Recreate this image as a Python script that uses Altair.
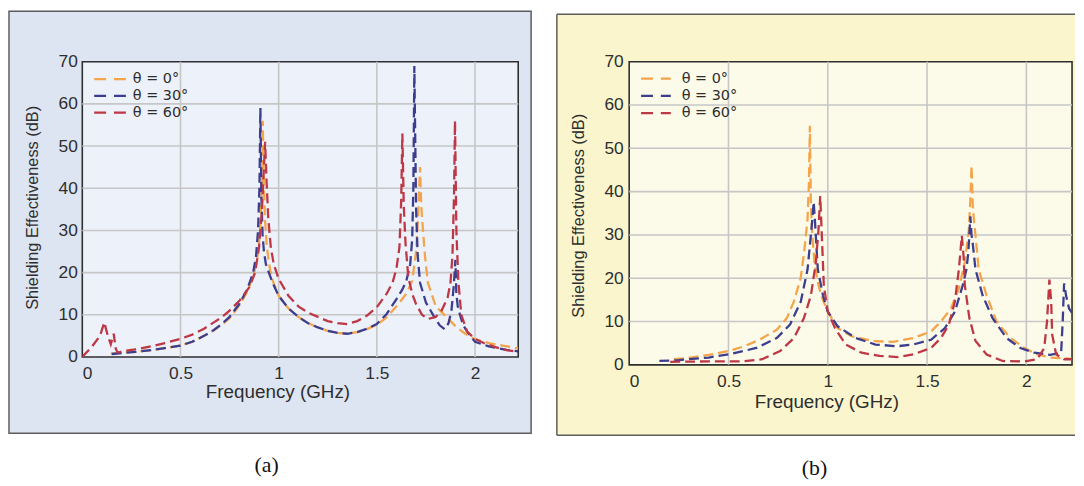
import altair as alt
import pandas as pd

# ---------------- data ----------------
series = ["θ = 0°", "θ = 30°", "θ = 60°"]
colors = ["#F4A44A", "#3B3D8F", "#BD3745"]
x_ticks = [0, 0.5, 1, 1.5, 2]
y_ticks = [0, 10, 20, 30, 40, 50, 60, 70]
x_grid = [0.5, 1, 1.5, 2]
y_grid = [10, 20, 30, 40, 50, 60]
panel_labels = ["(a)", "(b)"]
x_title = "Frequency (GHz)"
y_title = "Shielding Effectiveness (dB)"

# panel (a)
a_x0 = [0.145, 0.2, 0.27, 0.35, 0.42, 0.5, 0.56, 0.62, 0.67, 0.71, 0.75, 0.8, 0.84, 0.87, 0.89,
        0.9, 0.908, 0.914, 0.919, 0.924, 0.93, 0.94, 0.955, 0.97, 1.0, 1.05, 1.1, 1.15, 1.2, 1.25,
        1.3, 1.35, 1.4, 1.45, 1.5, 1.55, 1.6, 1.65, 1.68, 1.7, 1.71, 1.716, 1.72, 1.726, 1.735,
        1.745, 1.76, 1.8, 1.85, 1.9, 1.95, 2.0, 2.07, 2.14, 2.22]
a_y0 = [0.8, 1.0, 1.2, 1.6, 2.1, 2.7, 3.6, 5.0, 6.3, 7.6, 9.2, 12.2, 15.5, 19.0, 23.0,
        27.0, 32.0, 40.0, 56.0, 42.0, 33.0, 26.0, 21.0, 18.0, 14.5, 11.5, 9.5, 8.0, 7.0, 6.2,
        5.7, 5.5, 5.9, 6.6, 7.6, 9.4, 12.0, 15.0, 18.0, 25.0, 33.0, 40.0, 45.0, 36.0, 30.0,
        24.0, 17.6, 12.0, 9.7, 7.3, 5.5, 4.2, 3.3, 2.7, 2.0]
a_x30 = [0.15, 0.2, 0.27, 0.35, 0.42, 0.5, 0.56, 0.62, 0.67, 0.71, 0.75, 0.8, 0.84, 0.87, 0.885,
         0.895, 0.902, 0.907, 0.912, 0.918, 0.925, 0.935, 0.95, 0.97, 1.0, 1.05, 1.1, 1.15, 1.2, 1.25,
         1.3, 1.35, 1.4, 1.45, 1.5, 1.55, 1.6, 1.63, 1.65, 1.67, 1.68, 1.686, 1.691, 1.696, 1.70,
         1.708, 1.72, 1.75, 1.79, 1.82, 1.845, 1.865, 1.88, 1.892, 1.9, 1.905, 1.912, 1.925, 1.94, 1.96,
         2.0, 2.07, 2.16, 2.22]
a_y30 = [0.7, 0.9, 1.2, 1.6, 2.1, 2.7, 3.6, 5.0, 6.4, 7.8, 9.5, 12.6, 16.0, 20.0, 24.0,
         30.0, 40.0, 59.0, 38.0, 29.0, 25.0, 22.0, 20.0, 17.5, 14.5, 11.5, 9.5, 8.0, 7.0, 6.2,
         5.7, 5.5, 5.9, 6.7, 7.8, 10.2, 13.7, 16.0, 18.0, 22.0, 28.0, 40.0, 69.0, 50.0, 35.0,
         24.0, 17.6, 12.9, 9.7, 7.5, 6.6, 8.0, 11.0, 17.0, 23.0, 15.0, 12.0, 9.7, 7.5, 6.0,
         3.6, 2.5, 1.7, 1.3]
a_x60 = [0.0, 0.05, 0.09, 0.112, 0.13, 0.145, 0.16, 0.17, 0.18, 0.2, 0.27, 0.35, 0.42, 0.5, 0.56,
         0.62, 0.67, 0.71, 0.75, 0.8, 0.85, 0.88, 0.9, 0.915, 0.925, 0.931, 0.938, 0.947, 0.96, 0.975,
         1.0, 1.05, 1.1, 1.15, 1.2, 1.25, 1.3, 1.35, 1.4, 1.45, 1.5, 1.55, 1.58, 1.6, 1.615,
         1.624, 1.63, 1.637, 1.646, 1.66, 1.68, 1.7, 1.73, 1.76, 1.8, 1.83, 1.86, 1.875, 1.885, 1.893,
         1.898, 1.905, 1.915, 1.93, 1.96, 2.0, 2.05, 2.1, 2.16, 2.22]
a_y60 = [0.0, 2.5, 5.0, 8.2, 5.0, 3.0, 5.5, 2.0, 1.0, 1.3, 1.8, 2.5, 3.3, 4.3, 5.3,
         6.7, 8.2, 9.4, 11.0, 13.3, 16.5, 20.0, 26.0, 35.0, 45.0, 51.0, 42.0, 33.0, 26.0, 22.0,
         18.5, 14.5, 12.0, 10.5, 9.5, 8.5, 8.0, 7.8, 8.5, 9.8, 11.8, 15.0, 17.6, 21.0, 26.0,
         37.0, 53.0, 36.0, 27.0, 19.0, 15.0, 12.5, 10.0, 9.0, 9.5, 11.0, 14.0, 17.6, 24.0, 38.0,
         56.0, 30.0, 18.0, 10.0, 6.0, 4.3, 3.2, 2.4, 1.6, 1.2]

# panel (b)
b_x0 = [0.225, 0.3, 0.4, 0.5, 0.58, 0.656, 0.743, 0.794, 0.829, 0.863, 0.881, 0.898, 0.905, 0.91, 0.915,
        0.922, 0.933, 0.95, 0.967, 1.0, 1.05, 1.12, 1.23, 1.33, 1.43, 1.52, 1.57, 1.62, 1.66, 1.69,
        1.71, 1.718, 1.724, 1.73, 1.737, 1.744, 1.76, 1.8, 1.85, 1.92, 1.99, 2.055, 2.12, 2.23]
b_y0 = [1.3, 1.6, 2.3, 3.2, 4.3, 5.8, 8.1, 10.8, 14.6, 19.9, 26.0, 33.6, 42.0, 55.2, 37.0,
        30.0, 23.7, 19.0, 16.0, 12.3, 8.5, 6.6, 5.5, 5.3, 6.2, 7.7, 10.0, 13.0, 17.6, 23.7,
        31.0, 38.0, 46.0, 37.0, 33.0, 29.8, 22.0, 16.0, 10.0, 6.2, 3.9, 2.4, 1.7, 1.4]
b_x30 = [0.152, 0.25, 0.4, 0.5, 0.64, 0.743, 0.81, 0.864, 0.898, 0.915, 0.923, 0.929, 0.935, 0.942, 0.95,
         0.976, 1.0, 1.05, 1.14, 1.24, 1.35, 1.43, 1.52, 1.59, 1.64, 1.68, 1.698, 1.708, 1.718, 1.724,
         1.73, 1.744, 1.78, 1.83, 1.9, 1.97, 2.04, 2.12, 2.175, 2.183, 2.19, 2.2, 2.215, 2.23]
b_y30 = [0.9, 1.1, 1.7, 2.4, 3.9, 6.2, 9.3, 14.6, 22.0, 30.0, 34.0, 37.6, 33.6, 28.0, 22.0,
         16.0, 12.3, 8.9, 6.2, 4.7, 4.3, 4.7, 5.8, 8.5, 12.3, 18.4, 22.0, 26.0, 34.3, 30.0,
         28.0, 22.0, 16.0, 10.8, 6.2, 3.9, 2.8, 2.3, 2.8, 10.0, 18.8, 16.0, 13.0, 12.0]
b_x60 = [0.207, 0.4, 0.57, 0.67, 0.76, 0.83, 0.88, 0.915, 0.94, 0.953, 0.962, 0.97, 0.98, 1.0, 1.036,
         1.09, 1.17, 1.26, 1.35, 1.43, 1.52, 1.57, 1.61, 1.64, 1.66, 1.675, 1.684, 1.69, 1.713, 1.744,
         1.8, 1.88, 1.99, 2.055, 2.09, 2.104, 2.116, 2.125, 2.13, 2.15, 2.19, 2.23]
b_y60 = [0.7, 0.8, 0.8, 1.3, 3.2, 6.2, 10.8, 16.0, 23.7, 31.0, 39.0, 30.0, 18.4, 12.3, 8.5,
         4.7, 2.8, 2.1, 1.8, 2.4, 3.9, 6.2, 9.3, 14.6, 22.0, 29.8, 25.0, 18.4, 10.8, 5.5,
         2.4, 0.9, 0.8, 1.3, 3.9, 10.0, 19.7, 14.6, 7.0, 2.4, 1.3, 1.3]


def to_long(xs, ys):
    frames = [pd.DataFrame({"freq": x, "se": y, "theta": name})
              for name, x, y in zip(series, xs, ys)]
    return pd.concat(frames, ignore_index=True)


df_a = to_long([a_x0, a_x30, a_x60], [a_y0, a_y30, a_y60])
df_b = to_long([b_x0, b_x30, b_x60], [b_y0, b_y30, b_y60])

FONT = "Liberation Sans"
LEGFONT = "DejaVu Sans"
TXT = "#2e2e2e"
EDGE = "#5c5c5c"


def panel(df, label, W, H, xmax, box_fill, plot_fill, box, full_border, lab_xy,
          leg, ytitle_xy, xtitle_xy, xlab_pad, ylab_pad):
    one = pd.DataFrame({"k": [0]})
    xs = alt.Scale(domain=[0, xmax], nice=False, zero=False)
    ys = alt.Scale(domain=[0, 70], nice=False, zero=False)
    x_axis = alt.Axis(
        values=x_ticks, format="~g", title=x_title, grid=False, domain=False, ticks=False,
        tickSize=0, labelPadding=xlab_pad, labelFont=FONT, labelFontSize=17.5, labelColor=TXT,
        titleFont=FONT, titleFontSize=19, titleFontWeight="normal", titleColor=TXT,
        titleX=xtitle_xy[0], titleY=xtitle_xy[1], titleAlign="center", titleBaseline="middle",
        zindex=2)
    y_axis = alt.Axis(
        values=y_ticks, title=y_title, grid=False, domain=False, ticks=False, tickSize=0,
        labelPadding=ylab_pad, labelFont=FONT, labelFontSize=17.5, labelColor=TXT,
        titleFont=FONT, titleFontSize=16.5, titleFontWeight="normal", titleColor=TXT,
        titleX=ytitle_xy[0], titleY=ytitle_xy[1], titleAngle=270, titleAlign="center",
        titleBaseline="middle", zindex=2)
    bl, bt, br, bb = box
    layers = []
    if full_border:
        layers.append(alt.Chart(one).mark_rect(fill=box_fill, stroke=EDGE, strokeWidth=1.5).encode(
            x=alt.value(bl), x2=alt.value(br), y=alt.value(bt), y2=alt.value(bb)))
    else:
        layers.append(alt.Chart(one).mark_rect(fill=box_fill, strokeWidth=0).encode(
            x=alt.value(bl), x2=alt.value(br), y=alt.value(bt), y2=alt.value(bb)))
        layers.append(alt.Chart(one).mark_rule(color=EDGE, strokeWidth=1.5).encode(
            x=alt.value(bl), x2=alt.value(br), y=alt.value(bt)))
        layers.append(alt.Chart(one).mark_rule(color=EDGE, strokeWidth=1.5).encode(
            x=alt.value(bl), y=alt.value(bt), y2=alt.value(bb)))
        layers.append(alt.Chart(one).mark_rule(color=EDGE, strokeWidth=1.5).encode(
            x=alt.value(bl), x2=alt.value(br), y=alt.value(bb)))
    # plot area
    layers.append(alt.Chart(one).mark_rect(fill=plot_fill, stroke="#2f2f2f", strokeWidth=1.6).encode(
        x=alt.value(0), x2=alt.value(W), y=alt.value(0), y2=alt.value(H)))
    # grid
    layers.append(alt.Chart(pd.DataFrame({"freq": x_grid})).mark_rule(color="#c6c6c6", strokeWidth=1.6).encode(
        x=alt.X("freq:Q", scale=xs, axis=x_axis)))
    layers.append(alt.Chart(pd.DataFrame({"se": y_grid})).mark_rule(color="#c6c6c6", strokeWidth=1.6).encode(
        y=alt.Y("se:Q", scale=ys, axis=y_axis)))
    # curves
    lines = alt.Chart(df).mark_line(strokeDash=[10, 5], strokeWidth=2.3, clip=True).encode(
        x=alt.X("freq:Q", scale=xs, axis=x_axis),
        y=alt.Y("se:Q", scale=ys, axis=y_axis),
        color=alt.Color("theta:N", scale=alt.Scale(domain=series, range=colors), legend=None),
    )
    layers.append(lines)
    # legend (inside the plot, top-left)
    sx0, sx1, tx, y0, dy = leg
    for i, (name, col) in enumerate(zip(series, colors)):
        yy = y0 + i * dy
        layers.append(alt.Chart(one).mark_rule(color=col, strokeWidth=2.3, strokeDash=[12, 8]).encode(
            x=alt.value(sx0), x2=alt.value(sx1), y=alt.value(yy)))
        layers.append(alt.Chart(one).mark_text(font=LEGFONT, fontSize=14.5, color=TXT, align="left",
                                               baseline="middle").encode(
            x=alt.value(tx), y=alt.value(yy), text=alt.value(name)))
    # panel caption
    layers.append(alt.Chart(one).mark_text(font="Liberation Serif", fontSize=22, color="#111111",
                                           baseline="middle", align="center").encode(
        x=alt.value(lab_xy[0]), y=alt.value(lab_xy[1]), text=alt.value(label)))
    return alt.layer(*layers).properties(width=W, height=H)


pa = panel(df_a, panel_labels[0], 440, 298, 2.22, "#DEE5F2", "#EDF1F9",
           (-74, -51, 453, 375), True, (186, 407), (12, 44, 51, 17.5, 17),
           (-50, 147), (197, 35), 8, 5)
pb = panel(df_b, panel_labels[1], 447, 306, 2.23, "#FAF5CD", "#FCFBE9",
           (-73, -48, 450, 377), False, (187, 410), (12, 42, 53, 17, 17.5),
           (-51, 155), (199, 37), 8, 6)

chart = alt.hconcat(pa, pb, spacing=24).resolve_scale(
    x="independent", y="independent", color="independent"
).properties(
    padding=0, background="#ffffff"
).configure_view(strokeWidth=0)

chart.save("out.html", embed_options={"renderer": "svg", "actions": False})
